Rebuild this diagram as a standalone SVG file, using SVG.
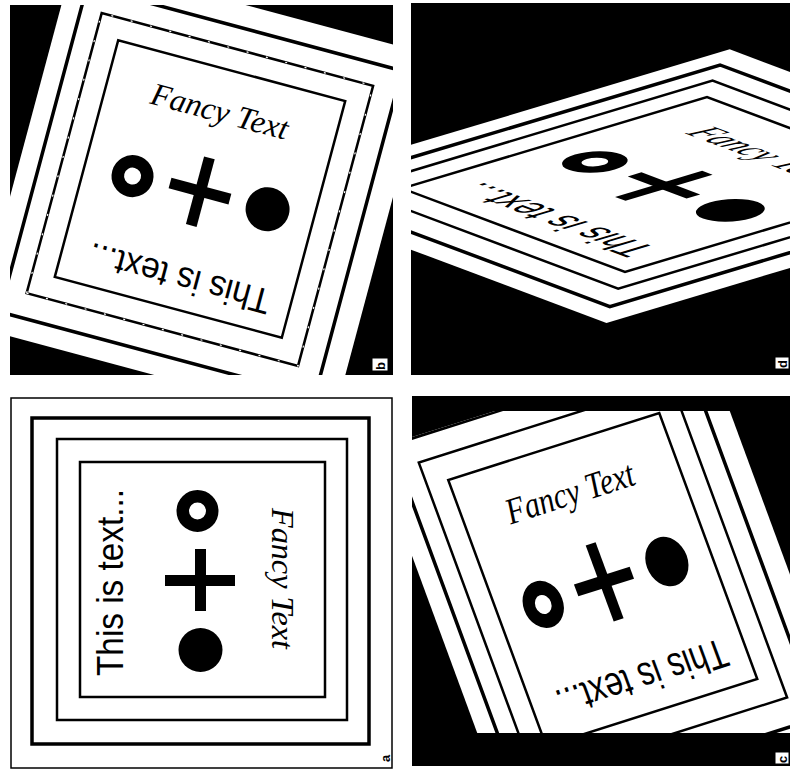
<svg xmlns="http://www.w3.org/2000/svg" xmlns:xlink="http://www.w3.org/1999/xlink" width="790" height="772" viewBox="0 0 790 772">
<style>
.ln{fill:none;stroke:#000;vector-effect:non-scaling-stroke}
.r2{stroke-width:3.5}
.r3{stroke-width:2.5}
.ri{stroke-width:2.5}
.t1{font-family:"Liberation Sans",Arial,sans-serif;font-size:36px;fill:#000}
.t2{font-family:"Liberation Serif","Times New Roman",serif;font-style:italic;font-size:32px;fill:#000}
.lbl{font-family:"Liberation Sans",Arial,sans-serif;font-weight:bold;font-size:13px;fill:#000}
.bg{fill:#000}
.tag{fill:#fff;stroke:#000;stroke-width:1}
</style>
<defs>
<clipPath id="cb"><rect x="10" y="5" width="383" height="370"/></clipPath>
<clipPath id="cd"><rect x="411" y="3" width="379" height="372"/></clipPath>
<clipPath id="cc"><polygon points="412,437 495,411 790,411 790,733 412,733"/></clipPath>
<g id="page">
 <rect x="11" y="398" width="381" height="370" fill="#fff"/>
 <rect class="ln r2" x="32" y="418" width="337" height="326"/>
 <rect class="ln r3" x="57" y="439" width="290" height="281"/>
 <rect class="ln ri" x="80" y="462" width="245" height="235"/>
 <circle cx="197.5" cy="511" r="14.75" fill="none" stroke="#000" stroke-width="12.5"/>
 <rect x="195" y="549" width="11" height="62"/>
 <rect x="165" y="575" width="70" height="11"/>
 <circle cx="200.5" cy="650" r="22"/>
 <text class="t1" transform="translate(123,676) rotate(-90)" textLength="187" lengthAdjust="spacingAndGlyphs">This is text...</text>
 <text class="t2" transform="translate(272,508) rotate(90)" textLength="141" lengthAdjust="spacingAndGlyphs">Fancy Text</text>
</g>
</defs>
<g id="panel-a">
 <use href="#page" xlink:href="#page"/>
 <rect x="11" y="398" width="381" height="370" fill="none" stroke="#000" stroke-width="1.5"/>
 <text class="lbl" transform="translate(390,762) rotate(-90)">a</text>
</g>
<g id="panel-b">
 <rect class="bg" x="10" y="5" width="383" height="370"/>
 <g clip-path="url(#cb)">
  <g transform="translate(200,189) rotate(-75) translate(-202.5,-579.5)">
   <use href="#page" xlink:href="#page"/>
   <rect x="57" y="439" width="290" height="281" fill="none" stroke="#fff" stroke-width="1.2" stroke-dasharray="2 18"/>
  </g>
 </g>
 <rect class="tag" x="372" y="358" width="16" height="13"/>
 <text class="lbl" transform="translate(385,370) rotate(-90)">b</text>
</g>
<g id="panel-d">
 <rect class="bg" x="411" y="3" width="379" height="372"/>
 <g clip-path="url(#cd)">
  <use href="#page" xlink:href="#page" transform="translate(666,184.5) matrix(1.244,-0.373,0.948,0.3555,0,0) translate(-202.5,-579.5)"/>
 </g>
 <rect class="tag" x="775" y="357" width="14" height="12"/>
 <text class="lbl" transform="translate(787,368) rotate(-90)">d</text>
</g>
<g id="panel-c">
 <rect class="bg" x="412" y="396" width="378" height="370"/>
 <g clip-path="url(#cc)">
  <use href="#page" xlink:href="#page" transform="translate(602.75,579.5) matrix(-0.4,-1.086,0.898,-0.285,0,0) translate(-202.5,-579.5)"/>
 </g>
 <rect class="tag" x="775" y="752" width="14" height="12"/>
 <text class="lbl" transform="translate(787,763) rotate(-90)">c</text>
</g>
</svg>
